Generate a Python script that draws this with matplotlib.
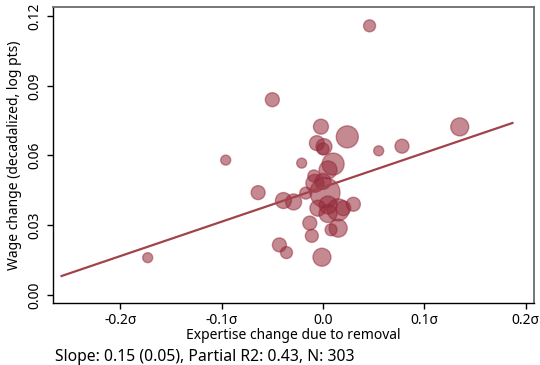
import matplotlib
matplotlib.use("Agg")
import matplotlib.pyplot as plt
import numpy as np

plt.rcParams['font.family'] = ['Noto Sans', 'DejaVu Sans']

# Expertise change (sigma units), wage change (log pts), and cell weight
expertise_change = [0.046, -0.050, -0.096, -0.173, -0.064, 0.135, 0.078, 0.055,
                    0.024, -0.002, -0.006, 0.001, 0.000, -0.021, 0.010, 0.005,
                    -0.009, 0.000, -0.008, 0.002, -0.017, -0.039, -0.029, 0.030,
                    -0.005, 0.005, 0.015, 0.020, 0.005, -0.013, 0.015, 0.008,
                    -0.011, -0.043, -0.036, -0.001]
wage_change = [0.1158, 0.084, 0.058, 0.016, 0.044, 0.0723, 0.064, 0.062,
               0.068, 0.0724, 0.0653, 0.0638, 0.0628, 0.0567, 0.0563, 0.0538,
               0.0512, 0.0488, 0.048, 0.044, 0.0438, 0.0406, 0.040, 0.039,
               0.0373, 0.0387, 0.0366, 0.0373, 0.035, 0.0309, 0.0287, 0.028,
               0.0254, 0.0215, 0.0182, 0.0162]
weight = [6, 7, 5, 5, 7, 9, 7, 5,
          11, 7.5, 7.5, 8, 6, 5, 11, 9,
          6, 8, 9, 15, 6, 8, 8, 7,
          8, 9, 11, 7.5, 9, 7, 9, 6,
          6.5, 7, 6, 9]

slope, intercept = 0.148, 0.0463
fit_x = [-0.258, 0.187]

x_ticks = [-0.2, -0.1, 0.0, 0.1, 0.2]
x_tick_labels = ['-0.2σ', '-0.1σ', '0.0', '0.1σ', '0.2σ']
y_ticks = [0.00, 0.03, 0.06, 0.09, 0.12]
y_tick_labels = ['0.00', '0.03', '0.06', '0.09', '0.12']

caption = 'Slope: 0.15 (0.05), Partial R2: 0.43, N: 303'

dpi = 100
fig = plt.figure(figsize=(5.4, 3.65), dpi=dpi)
ax = fig.add_axes([0.0981, 0.1699, 0.8908, 0.8109])

base = (0.58, 0.16, 0.22)
px_per_pt = dpi / 72.0
sizes = [(2 * r / px_per_pt) ** 2 for r in weight]
ax.scatter(expertise_change, wage_change, s=sizes,
           facecolor=(*base, 0.55), edgecolor=(*base, 0.5), linewidth=1.0,
           zorder=2)

fx = np.array(fit_x)
ax.plot(fx, intercept + slope * fx, color='#a1434b', linewidth=1.6, zorder=3)

ax.set_xlim(-0.2665, 0.2083)
ax.set_ylim(-0.0035, 0.1239)
ax.set_xticks(x_ticks)
ax.set_xticklabels(x_tick_labels)
ax.set_yticks(y_ticks)
ax.set_yticklabels(y_tick_labels, rotation=90, va='center')

ax.tick_params(direction='out', length=4, width=1, labelsize=10, colors='black')
for side in ('left', 'bottom'):
    ax.spines[side].set_color('black')
    ax.spines[side].set_linewidth(1.0)
for side in ('top', 'right'):
    ax.spines[side].set_color('#6b6b6b')
    ax.spines[side].set_linewidth(1.3)

ax.set_xlabel('Expertise change due to removal', fontsize=10, labelpad=0)
ax.set_ylabel('Wage change (decadalized, log pts)', fontsize=10, labelpad=4)

fig.text(55 / 540, 1 - 357 / 365, caption, fontsize=11.3, ha='left', va='center')

fig.savefig('out.png', dpi=dpi)
